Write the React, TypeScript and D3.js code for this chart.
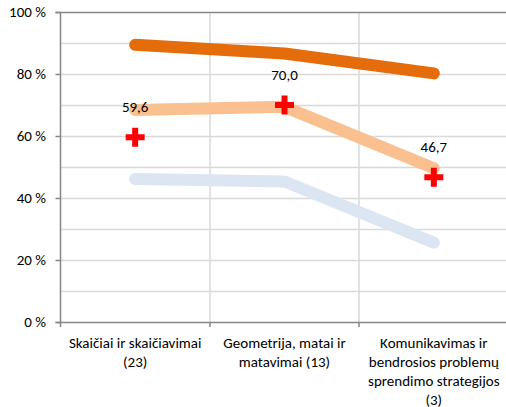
import React from 'react';
import * as d3 from 'd3';

const categories = ['Skaičiai ir skaičiavimai (23)', 'Geometrija, matai ir matavimai (13)', 'Komunikavimas ir bendrosios problemų sprendimo strategijos (3)'];
const categoryLines = [
  ['Skaičiai ir skaičiavimai', '(23)'],
  ['Geometrija, matai ir', 'matavimai (13)'],
  ['Komunikavimas ir', 'bendrosios problemų', 'sprendimo strategijos', '(3)'],
];
const highSeries = [89.4, 86.6, 80.2];
const midSeries = [68.4, 69.4, 49.6];
const lowSeries = [46.1, 45.3, 25.6];
const markValues = [59.6, 70.0, 46.7];
const markLabels = ['59,6', '70,0', '46,7'];
const yTicks = [0, 20, 40, 60, 80, 100];
const yGrid = [10, 20, 30, 40, 50, 60, 70, 80, 90];

const font = 'Calibri, Carlito, Lato, sans-serif';
const fs = 15;

export default function App() {
  const width = 506;
  const height = 407;
  const left = 60.5;
  const top = 12;
  const bottom = 322;

  const x = d3.scaleBand().domain(categories).range([left, left + 448]).paddingInner(0).paddingOuter(0);
  const y = d3.scaleLinear().domain([0, 100]).range([bottom, top]);
  const cx = (i: number) => (x(categories[i]) as number) + x.bandwidth() / 2;

  const line = d3.line<number>().x((d, i) => cx(i)).y(d => y(d));

  const series = [
    { values: lowSeries, color: '#dce6f2' },
    { values: midSeries, color: '#fac090' },
    { values: highSeries, color: '#e46c0a' },
  ];

  const cross = 'M-3,-9.5H3V-3H9.5V3H3V9.5H-3V3H-9.5V-3H-3Z';

  return (
    <svg width={width} height={height} style={{ position: 'absolute', left: 0, top: 0 }}>
      {/* gridlines */}
      {yGrid.map(t => (
        <line key={'g' + t} x1={left} x2={width} y1={Math.round(y(t)) + 0.5} y2={Math.round(y(t)) + 0.5} stroke="#d9d9d9" strokeWidth={1.5} />
      ))}
      {categories.slice(1).map(c => (
        <line key={'v' + c} x1={Math.round(x(c) as number)} x2={Math.round(x(c) as number)} y1={top} y2={bottom} stroke="#d9d9d9" strokeWidth={1.5} />
      ))}
      {/* top border */}
      <line x1={left - 5} x2={width} y1={top + 0.5} y2={top + 0.5} stroke="#868686" strokeWidth={1.5} />
      {/* axes */}
      <line x1={left} x2={left} y1={top} y2={bottom + 5} stroke="#868686" strokeWidth={1.5} />
      <line x1={left - 5} x2={width} y1={bottom + 0.5} y2={bottom + 0.5} stroke="#868686" strokeWidth={1.5} />
      {yTicks.map(t => (
        <g key={'t' + t}>
          <line x1={left - 5} x2={left} y1={Math.round(y(t)) + 0.5} y2={Math.round(y(t)) + 0.5} stroke="#868686" strokeWidth={1.5} />
          <text x={46} y={y(t)} dy="0.35em" textAnchor="end" fontFamily={font} fontSize={fs} fill="#000">{t + ' %'}</text>
        </g>
      ))}
      {categories.slice(1).map(c => (
        <line key={'xt' + c} x1={Math.round(x(c) as number)} x2={Math.round(x(c) as number)} y1={bottom} y2={bottom + 5} stroke="#868686" strokeWidth={1.5} />
      ))}
      {/* category labels */}
      {categoryLines.map((lines, i) => (
        <text key={'c' + i} x={cx(i)} y={348} textAnchor="middle" fontFamily={font} fontSize={fs} fill="#000">
          {lines.map((l, j) => (
            <tspan key={j} x={cx(i)} dy={j === 0 ? 0 : 19}>{l}</tspan>
          ))}
        </text>
      ))}
      {/* lines */}
      {series.map((s, k) => (
        <path key={'s' + k} d={line(s.values) as string} fill="none" stroke={s.color} strokeWidth={12} strokeLinecap="round" strokeLinejoin="round" />
      ))}
      {/* markers */}
      {markValues.map((v, i) => (
        <g key={'m' + i}>
          <path d={cross} transform={`translate(${cx(i)},${y(v)})`} fill="#ff0000" />
          <text x={cx(i)} y={y(v) - 30} dy="0.35em" textAnchor="middle" fontFamily={font} fontSize={fs} fill="#000">{markLabels[i]}</text>
        </g>
      ))}
    </svg>
  );
}
